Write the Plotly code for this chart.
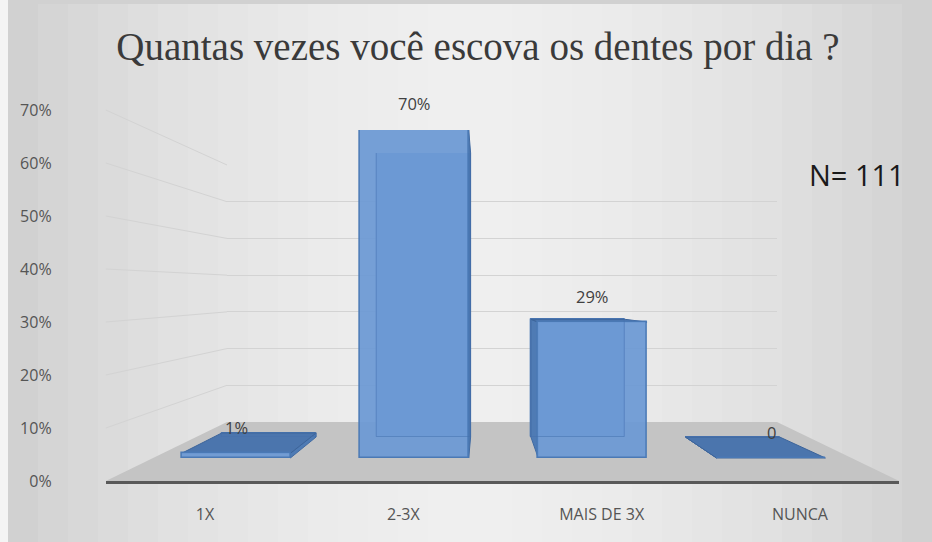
import plotly.graph_objects as go

# ---------------- data ----------------
categories = ["1X", "2-3X", "MAIS DE 3X", "NUNCA"]
values = [0.01, 0.70, 0.29, 0.0]
tick_vals = [0.0, 0.1, 0.2, 0.3, 0.4, 0.5, 0.6, 0.7]
tick_text = ["0%", "10%", "20%", "30%", "40%", "50%", "60%", "70%"]
title_text = "Quantas vezes você escova os dentes por dia ?"
n_label = "N= 111"

# ---------------- geometry (pixels in a 932x542 page) ----------------
W, H = 932, 542
YMAX = 0.7
BAR_W = 0.61
FRONT = dict(c0=205, c3=800, base=481, top=110)      # axis plane (tick labels)
BAR_F = dict(c0=236, c3=771, base=458, top=130)      # front faces of the bars
BAR_B = dict(c0=269, c3=732.5, base=437, top=153)    # back faces of the bars
WALL = dict(left=227, right=777, base=422, top=165)  # back wall (gridlines)


def step(p):
    return (p["c3"] - p["c0"]) / 3.0


def xdom(p):
    s = step(p)
    return [(p["c0"] - 0.5 * s) / W, (p["c3"] + 0.5 * s) / W]


def ydom(p):
    return [1 - p["base"] / H, 1 - p["top"] / H]


def xpix(p, u):
    return p["c0"] + u * step(p)


def ypix(p, v):
    return p["base"] - v / YMAX * (p["base"] - p["top"])


def px(x):
    return x / W


def py(y):
    return 1 - y / H


idx = list(range(len(categories)))
fig = go.Figure()

# subplot 1 (x/y): front axis plane with tick labels
fig.add_trace(go.Scatter(x=[0], y=[0], xaxis="x", yaxis="y", mode="markers",
                         marker=dict(opacity=0), hoverinfo="skip", showlegend=False))
# subplot 2: back wall gridlines
fig.add_trace(go.Scatter(x=[0.5], y=[0], xaxis="x2", yaxis="y2", mode="markers",
                         marker=dict(opacity=0), hoverinfo="skip", showlegend=False))
# subplot 3: back faces of the boxes
fig.add_trace(go.Bar(x=idx, y=values, xaxis="x3", yaxis="y3",
                     width=BAR_W, marker=dict(color="#6c99d3", line=dict(color="#4f7ebb", width=1)),
                     hoverinfo="skip", showlegend=False))

# subplot 4: connecting faces (sides / tops) derived from the values
hw = BAR_W / 2
for i, v in enumerate(values):
    xlf, xrf = xpix(BAR_F, i - hw), xpix(BAR_F, i + hw)
    ytf, ybf = ypix(BAR_F, v), ypix(BAR_F, 0)
    xlb, xrb = xpix(BAR_B, i - hw), xpix(BAR_B, i + hw)
    ytb, ybb = ypix(BAR_B, v), ypix(BAR_B, 0)
    polys = []
    if xrb > xrf:
        polys.append(([xrf, xrf, xrb, xrb, xrf], [ybf, ytf, ytb, ybb, ybf], "#4f7bb4", "#416ba3"))
    if xlb < xlf:
        polys.append(([xlf, xlf, xlb, xlb, xlf], [ybf, ytf, ytb, ybb, ybf], "#4f7bb4", "#416ba3"))
    if ytb < ytf:
        polys.append(([xlf, xrf, xrb, xlb, xlf], [ytf, ytf, ytb, ytb, ytf], "#4b75ad", "#3c649a"))
    for xs, ys, fc, lc in polys:
        fig.add_trace(go.Scatter(x=xs, y=ys, xaxis="x4", yaxis="y4", mode="lines", fill="toself",
                                 fillcolor=fc, line=dict(color=lc, width=1),
                                 hoverinfo="skip", showlegend=False))

# subplot 5: front faces of the boxes
fig.add_trace(go.Bar(x=idx, y=values, xaxis="x5", yaxis="y5",
                     width=BAR_W,
                     marker=dict(color="rgba(108,153,212,0.93)", line=dict(color="#4a79b5", width=1.5)),
                     hoverinfo="skip", showlegend=False))
# subplot 6: faint back-face edges seen through the translucent front
fig.add_trace(go.Bar(x=idx, y=values, xaxis="x6", yaxis="y6",
                     width=BAR_W,
                     marker=dict(color="rgba(0,0,0,0)", line=dict(color="rgba(68,110,170,0.45)", width=1)),
                     hoverinfo="skip", showlegend=False))

# ---------------- decorative shapes ----------------
shapes = []
shapes.append(dict(type="rect", xref="paper", yref="paper", x0=px(8), x1=1, y0=0, y1=1,
                   fillcolor="#d1d1d1", line=dict(width=0), layer="below"))
for k in range(1, 15):
    shapes.append(dict(type="rect", xref="paper", yref="paper",
                       x0=px(8 + 30 * k), x1=px(W - 30 * k), y0=0, y1=py(4),
                       fillcolor="rgba(255,255,255,0.09)", line=dict(width=0), layer="below"))
# floor
fl, fr = xdom(FRONT)
shapes.append(dict(type="path", xref="paper", yref="paper",
                   path=f"M {fl} {py(FRONT['base'])} L {fr} {py(FRONT['base'])} "
                        f"L {px(WALL['right'])} {py(WALL['base'])} L {px(WALL['left'])} {py(WALL['base'])} Z",
                   fillcolor="#c4c4c4", line=dict(width=0), layer="below"))
# left-wall gridline connectors
for t in tick_vals[1:]:
    y_front = FRONT["base"] - t / YMAX * (FRONT["base"] - FRONT["top"])
    y_wall = WALL["base"] - t / YMAX * (WALL["base"] - WALL["top"])
    shapes.append(dict(type="line", xref="paper", yref="paper",
                       x0=fl, y0=py(y_front), x1=px(WALL["left"]), y1=py(y_wall),
                       line=dict(color="#d3d3d3", width=1), layer="below"))

# ---------------- annotations ----------------
annotations = []
for i, v in enumerate(values):
    label = f"{round(v * 100)}%" if v > 0 else "0"
    annotations.append(dict(xref="x5", yref="y5", x=i, y=v, text=label, showarrow=False,
                            xanchor="center", yanchor="middle", yshift=26,
                            font=dict(size=16.5, color="#404040", family="Open Sans")))
annotations.append(dict(xref="paper", yref="paper", x=px(857), y=py(174), text=n_label,
                        xanchor="center", yanchor="middle", showarrow=False,
                        font=dict(size=29, color="#1a1a1a", family="Open Sans")))

hidden = dict(visible=False, fixedrange=True)
fig.update_layout(
    width=W, height=H, autosize=False,
    margin=dict(l=0, r=0, t=0, b=0, pad=0, autoexpand=False),
    paper_bgcolor="#f4f4f4", plot_bgcolor="rgba(0,0,0,0)",
    font=dict(family="Open Sans", color="#595959"),
    title=dict(text=title_text, x=px(478), y=py(46), xanchor="center", yanchor="middle",
               xref="paper", yref="container",
               font=dict(family="Liberation Serif", size=39, color="#3a3a3a")),
    xaxis=dict(domain=xdom(FRONT), range=[-0.5, 3.5], tickvals=[0, 1, 2, 3], ticktext=categories,
               showline=True, linecolor="#595959", linewidth=3, ticks="outside", ticklen=17,
               tickcolor="rgba(0,0,0,0)", tickfont=dict(size=16, color="#555555"),
               showgrid=False, zeroline=False, fixedrange=True, automargin=False),
    yaxis=dict(domain=ydom(FRONT), range=[0, YMAX], tickvals=tick_vals, ticktext=tick_text,
               ticks="outside", ticklen=50, tickcolor="rgba(0,0,0,0)",
               tickfont=dict(size=16, color="#555555"), showgrid=False, zeroline=False,
               showline=False, anchor="x", fixedrange=True, automargin=False),
    xaxis2=dict(domain=[px(WALL["left"]), px(WALL["right"])], range=[0, 1], anchor="y2", **hidden),
    yaxis2=dict(domain=[py(WALL["base"]), py(WALL["top"])], range=[0, YMAX], anchor="x2",
                tickvals=tick_vals, showticklabels=False, ticks="", showgrid=True,
                gridcolor="#d3d3d3", gridwidth=1, zeroline=False, showline=False, fixedrange=True),
    xaxis3=dict(domain=xdom(BAR_B), range=[-0.5, 3.5], anchor="y3", **hidden),
    yaxis3=dict(domain=ydom(BAR_B), range=[0, YMAX], anchor="x3", **hidden),
    xaxis4=dict(domain=[0, 1], range=[0, W], anchor="y4", **hidden),
    yaxis4=dict(domain=[0, 1], range=[H, 0], anchor="x4", **hidden),
    xaxis5=dict(domain=xdom(BAR_F), range=[-0.5, 3.5], anchor="y5", **hidden),
    yaxis5=dict(domain=ydom(BAR_F), range=[0, YMAX], anchor="x5", **hidden),
    xaxis6=dict(domain=xdom(BAR_B), range=[-0.5, 3.5], anchor="y6", **hidden),
    yaxis6=dict(domain=ydom(BAR_B), range=[0, YMAX], anchor="x6", **hidden),
    shapes=shapes, annotations=annotations, showlegend=False, bargap=0,
)

fig.write_html("out.html", config={"displayModeBar": False},
               post_script="document.body.style.margin='0';document.body.style.overflow='hidden';")
